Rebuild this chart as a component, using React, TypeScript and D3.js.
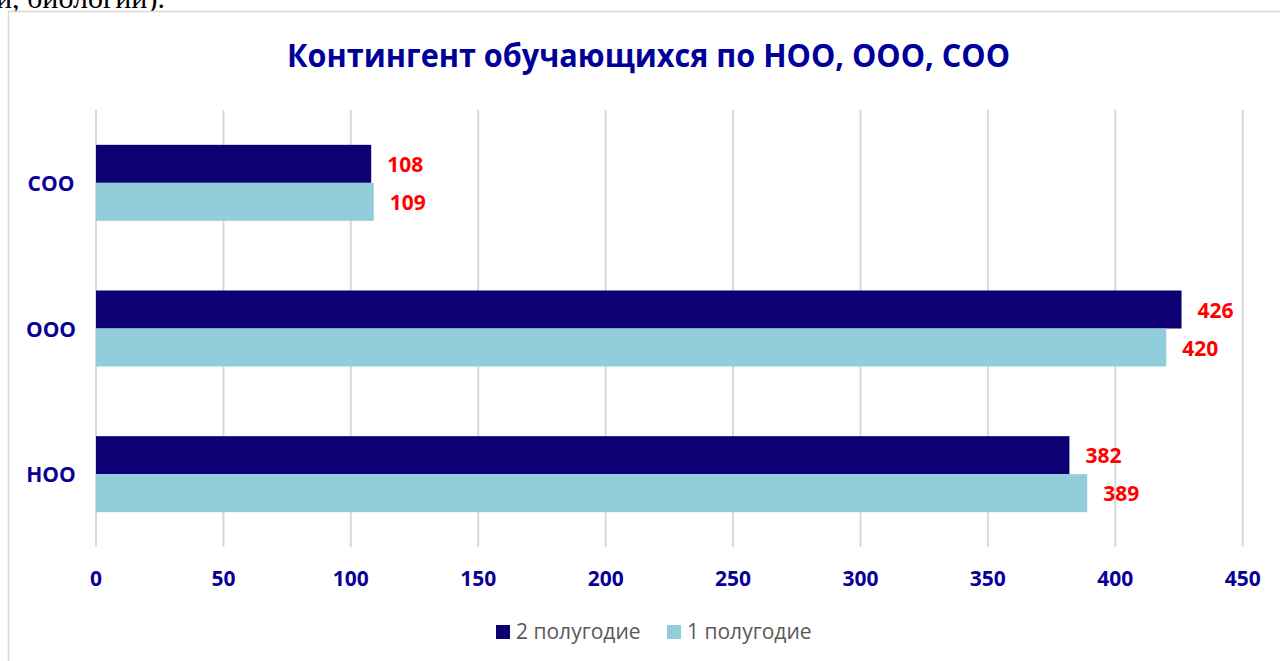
import React from "react";
import * as d3 from "d3";

const categories = ["СОО", "ООО", "НОО"];
const sem2 = [108, 426, 382];
const sem1 = [109, 420, 389];
const ticks = [0, 50, 100, 150, 200, 250, 300, 350, 400, 450];
const seriesNames = ["2 полугодие", "1 полугодие"];
const colors = ["#0E0073", "#92CDDC"];

const W = 1280;
const H = 661;

export default function App() {
  const x = d3.scaleLinear().domain([0, 450]).range([96, 1242.7]);
  const y = d3.scaleBand().domain(categories).range([110, 547]).padding(0);
  const barH = 38;
  const labelColor = "#0A0096";
  const font = "'Open Sans', 'DejaVu Sans', sans-serif";

  return (
    <svg
      width={W}
      height={H}
      style={{ position: "absolute", left: 0, top: 0, background: "#fff" }}
    >
      <text x={-20} y={8} fontFamily="'Liberation Serif', serif" fontSize={30} fill="#000">
        ии, биологии).
      </text>
      <rect x={8.5} y={11.5} width={1300} height={700} fill="#fff" stroke="#D9D9D9" strokeWidth={1.5} />
      <text
        x={648.5}
        y={67}
        textAnchor="middle"
        fontFamily={font}
        fontWeight={700}
        fontSize={31.5}
        textLength={723}
        lengthAdjust="spacingAndGlyphs"
        fill="#000099"
      >
        Контингент обучающихся по НОО, ООО, СОО
      </text>
      {ticks.map((t) => (
        <g key={t}>
          <line x1={x(t)} x2={x(t)} y1={110} y2={547} stroke="#D9D9D9" strokeWidth={2} />
          <text
            x={x(t)}
            y={586}
            textAnchor="middle"
            fontFamily={font}
            fontWeight={700}
            fontSize={21}
            fill={labelColor}
          >
            {t}
          </text>
        </g>
      ))}
      {categories.map((c, i) => {
        const cy = (y(c) as number) + y.bandwidth() / 2;
        return (
          <g key={c}>
            <text
              x={51}
              y={cy + 8}
              textAnchor="middle"
              fontFamily={font}
              fontWeight={700}
              fontSize={21}
              fill={labelColor}
            >
              {c}
            </text>
            <rect x={x(0)} y={cy - barH} width={x(sem2[i]) - x(0)} height={barH} fill={colors[0]} />
            <rect x={x(0)} y={cy} width={x(sem1[i]) - x(0)} height={barH} fill={colors[1]} />
            <text
              x={x(sem2[i]) + 16}
              y={cy - barH / 2 + 8}
              fontFamily={font}
              fontWeight={700}
              fontSize={21}
              fill="#FF0000"
            >
              {sem2[i]}
            </text>
            <text
              x={x(sem1[i]) + 16}
              y={cy + barH / 2 + 8}
              fontFamily={font}
              fontWeight={700}
              fontSize={21}
              fill="#FF0000"
            >
              {sem1[i]}
            </text>
          </g>
        );
      })}
      {seriesNames.map((s, i) => {
        const lx = i === 0 ? 496 : 667;
        return (
          <g key={s}>
            <rect x={lx} y={625} width={14} height={14} fill={colors[i]} />
            <text x={lx + 20} y={639} fontFamily={font} fontSize={21} fill="#595959">
              {s}
            </text>
          </g>
        );
      })}
    </svg>
  );
}
